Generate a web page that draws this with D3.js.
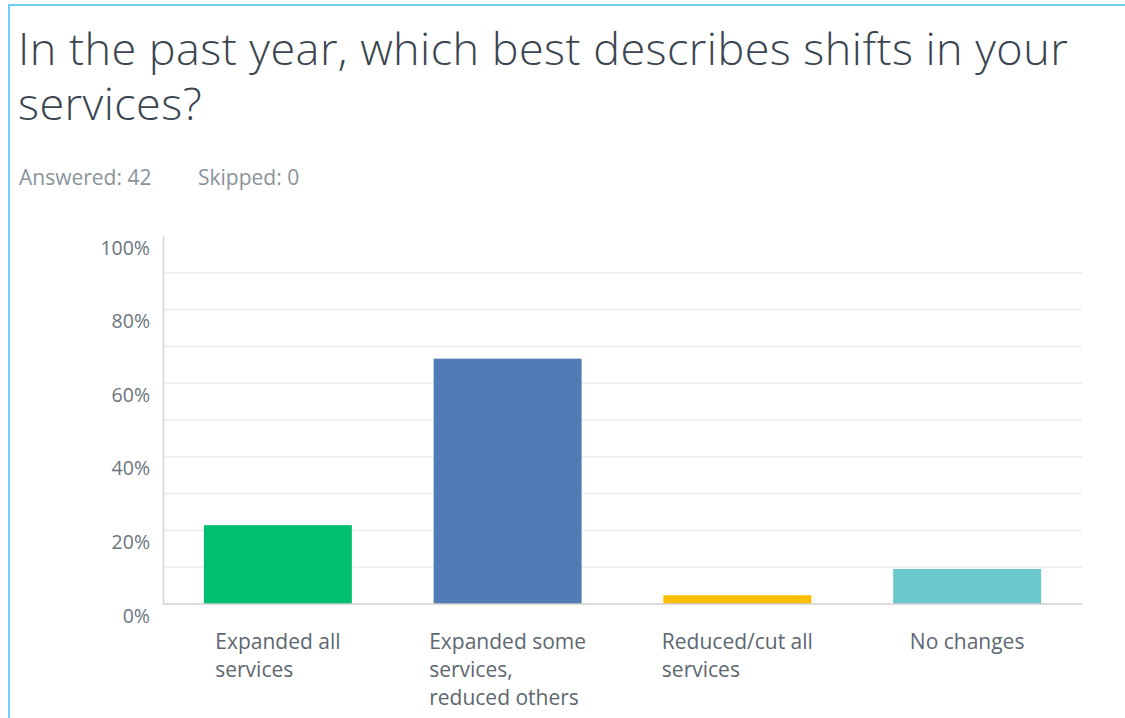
<!DOCTYPE html>
<html>
<head>
<meta charset="utf-8">
<script src="https://cdn.jsdelivr.net/npm/d3@7"></script>
<style>
  html, body { margin: 0; padding: 0; background: #fff; }
  svg { display: block; }
</style>
</head>
<body>
<svg id="chart" width="1125" height="718"></svg>
<script>
// Survey question and response summary
const titleLines = ["In the past year, which best describes shifts in your", "services?"];
const answered = 42;
const skipped = 0;

// Answer choices (wrapped label lines) and response shares in percent
const categories = [
  ["Expanded all", "services"],
  ["Expanded some", "services,", "reduced others"],
  ["Reduced/cut all", "services"],
  ["No changes"]
];
const percentages = [21.43, 66.67, 2.38, 9.52];
const barColors = ["#00bf6f", "#507cb6", "#f9be00", "#6bc8cd"];
const tickValues = [0, 20, 40, 60, 80, 100];
const gridValues = [10, 20, 30, 40, 50, 60, 70, 80, 90];

const svg = d3.select("#chart");
const font = "'Open Sans', 'Noto Sans', sans-serif";

// Panel frame (top and left edges visible)
svg.append("line").attr("x1", 9).attr("x2", 1125).attr("y1", 5).attr("y2", 5)
  .attr("stroke", "#6dcff6").attr("stroke-width", 2);
svg.append("line").attr("x1", 9).attr("x2", 9).attr("y1", 4).attr("y2", 718)
  .attr("stroke", "#6dcff6").attr("stroke-width", 2);

// Title
svg.append("g").selectAll("text").data(titleLines).join("text")
  .attr("x", 18).attr("y", (d, i) => 65 + i * 55)
  .attr("font-family", font).attr("font-size", 45).attr("font-weight", 300)
  .attr("letter-spacing", 0.45)
  .attr("fill", "#3a4550")
  .text(d => d);

// Response counts
const meta = svg.append("text").attr("y", 185)
  .attr("font-family", font).attr("font-size", 21).attr("fill", "#8a939b");
meta.append("tspan").attr("x", 19).text(`Answered: ${answered}`);
meta.append("tspan").attr("x", 198).text(`Skipped: ${skipped}`);

// Plot area
const plotLeft = 163, plotRight = 1082, plotTop = 236, plotBottom = 604;

const x = d3.scaleBand()
  .domain(d3.range(categories.length))
  .range([plotLeft, plotRight])
  .paddingInner(0.356)
  .paddingOuter(0.178);

const y = d3.scaleLinear().domain([0, 100]).range([plotBottom, plotTop]);

// Horizontal gridlines
svg.append("g").selectAll("line").data(gridValues).join("line")
  .attr("x1", plotLeft).attr("x2", plotRight)
  .attr("y1", d => y(d)).attr("y2", d => y(d))
  .attr("stroke", "#ededed").attr("stroke-width", 1.5);

// Bars
svg.append("g").selectAll("rect").data(percentages).join("rect")
  .attr("x", (d, i) => x(i))
  .attr("y", d => y(d))
  .attr("width", x.bandwidth())
  .attr("height", d => y(0) - y(d))
  .attr("fill", (d, i) => barColors[i]);

// Y axis
const yAxis = svg.append("g")
  .attr("transform", `translate(${plotLeft},0)`)
  .call(d3.axisLeft(y).tickValues(tickValues).tickFormat(d => d + "%").tickSize(0).tickPadding(13));
yAxis.select(".domain").attr("stroke", "#d5d5d5").attr("stroke-width", 1.5);
yAxis.selectAll("text")
  .attr("font-family", font).attr("font-size", 19.5).attr("fill", "#6b7580")
  .attr("dy", 18);

// X axis baseline
svg.append("line").attr("x1", plotLeft).attr("x2", plotRight)
  .attr("y1", plotBottom).attr("y2", plotBottom)
  .attr("stroke", "#cfcfcf").attr("stroke-width", 1.5);

// Category labels: left-aligned block centred under each bar
const labels = svg.append("g").selectAll("g").data(categories).join("g");
labels.each(function (lines, i) {
  const g = d3.select(this);
  const t = g.append("text")
    .attr("font-family", font).attr("font-size", 21).attr("fill", "#5d6770");
  lines.forEach((line, k) => {
    t.append("tspan").attr("x", 0).attr("y", 649 + k * 28).text(line);
  });
  let maxW = 0;
  t.selectAll("tspan").each(function () { maxW = Math.max(maxW, this.getComputedTextLength()); });
  const cx = x(i) + x.bandwidth() / 2;
  g.attr("transform", `translate(${cx - maxW / 2},0)`);
});
</script>
</body>
</html>
